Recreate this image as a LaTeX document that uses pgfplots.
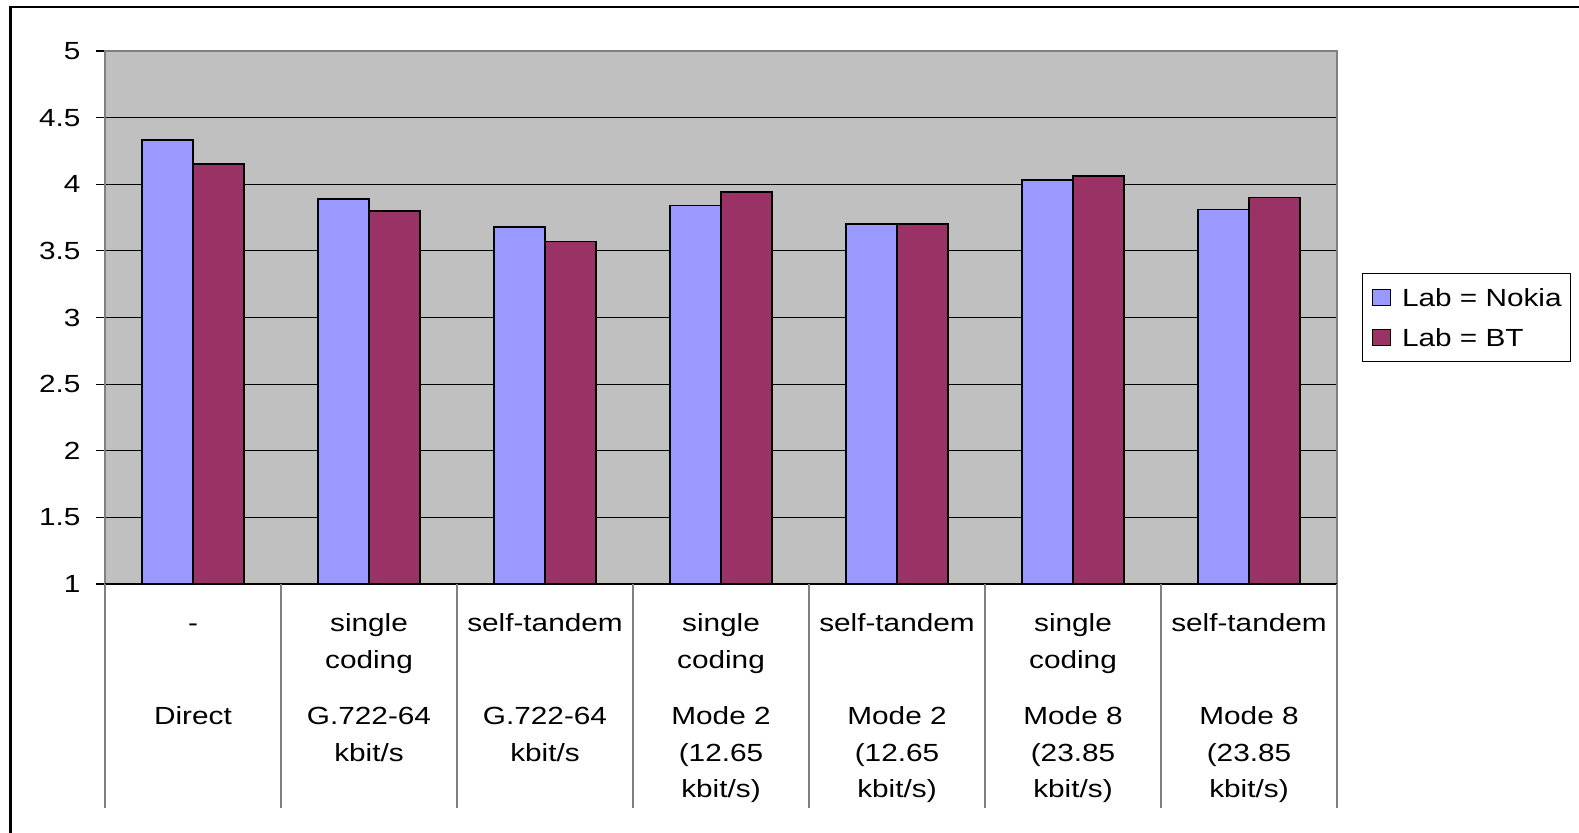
\documentclass[border=0pt]{standalone}
\usepackage{pgfplots}
\pgfplotsset{compat=1.18}
\usepackage{fontspec}
\setmainfont{Liberation Sans}[FakeStretch=1.2]
\definecolor{nokia}{HTML}{9999FF}
\definecolor{bt}{HTML}{993366}
\definecolor{plotbg}{HTML}{C0C0C0}
\definecolor{frame}{HTML}{808080}
\newcommand{\lbl}{\fontsize{12.4}{14}\selectfont}
% one category label: x position, then the five text rows under the axis
\newcommand{\cat}[6]{%
  \node[font=\lbl, anchor=base, yshift=-23.5pt] at (axis cs:#1,1) {#2};
  \node[font=\lbl, anchor=base, yshift=-42pt]   at (axis cs:#1,1) {#3};
  \node[font=\lbl, anchor=base, yshift=-70pt]   at (axis cs:#1,1) {#4};
  \node[font=\lbl, anchor=base, yshift=-88.5pt] at (axis cs:#1,1) {#5};
  \node[font=\lbl, anchor=base, yshift=-106.5pt] at (axis cs:#1,1) {#6};
}
\begin{document}
\begin{tikzpicture}
\path[use as bounding box] (0,0) rectangle (789.5pt,416pt);
\draw[line width=1.35pt] (792pt,412.5pt) -- (5.25pt,412.5pt) -- (5.25pt,-2pt);
\begin{axis}[
  at={(52.5pt,124pt)}, anchor=south west,
  scale only axis, width=616pt, height=266.5pt,
  ybar, bar width=0.288,
  xmin=-0.5, xmax=6.5, ymin=1, ymax=5,
  xtick=\empty,
  ytick={1,1.5,2,2.5,3,3.5,4,4.5,5},
  ytick pos=left,
  axis background/.style={fill=plotbg},
  ymajorgrids, grid style={black, line width=0.5pt},
  axis line style={frame, line width=1pt},
  tick align=outside, major tick length=4.5pt,
  ytick style={black, line width=0.6pt},
  yticklabel style={font=\lbl, inner xsep=7.6pt},
  /pgf/number format/assume math mode=true,
  clip mode=individual,
  legend style={at={(1.0203,0.5835)}, anchor=north west, draw=black,
    line width=0.5pt, fill=white, font=\lbl, inner xsep=4.5pt, inner ysep=7.5pt,
    row sep=11.2pt, nodes={inner sep=0pt, text height=8.8pt, text depth=0pt}},
  legend cell align=left,
  legend image code/.code={%
    \draw[#1, line width=0.6pt] (0pt,-4pt) rectangle (9pt,4pt);
    \path (14.5pt,0pt);},
]
\addplot[fill=nokia, draw=black, line width=0.9pt, bar shift=-0.144]
  coordinates {(0,4.33) (1,3.89) (2,3.68) (3,3.84) (4,3.70) (5,4.03) (6,3.81)};
\addplot[fill=bt, draw=black, line width=0.9pt, bar shift=0.144]
  coordinates {(0,4.15) (1,3.80) (2,3.57) (3,3.94) (4,3.70) (5,4.06) (6,3.90)};
\legend{Lab = Nokia, Lab = BT}
\draw[black, line width=1pt] (axis cs:-0.5,1) -- (axis cs:6.5,1);
\pgfplotsinvokeforeach{-0.5,0.5,1.5,2.5,3.5,4.5,5.5,6.5}{
  \draw[frame, line width=0.6pt] (axis cs:#1,1) -- ++(0pt,-112pt);
}
\cat{0}{-}{}{Direct}{}{}
\cat{1}{single}{coding}{G.722-64}{kbit/s}{}
\cat{2}{self-tandem}{}{G.722-64}{kbit/s}{}
\cat{3}{single}{coding}{Mode 2}{(12.65}{kbit/s)}
\cat{4}{self-tandem}{}{Mode 2}{(12.65}{kbit/s)}
\cat{5}{single}{coding}{Mode 8}{(23.85}{kbit/s)}
\cat{6}{self-tandem}{}{Mode 8}{(23.85}{kbit/s)}
\end{axis}
\end{tikzpicture}
\end{document}
